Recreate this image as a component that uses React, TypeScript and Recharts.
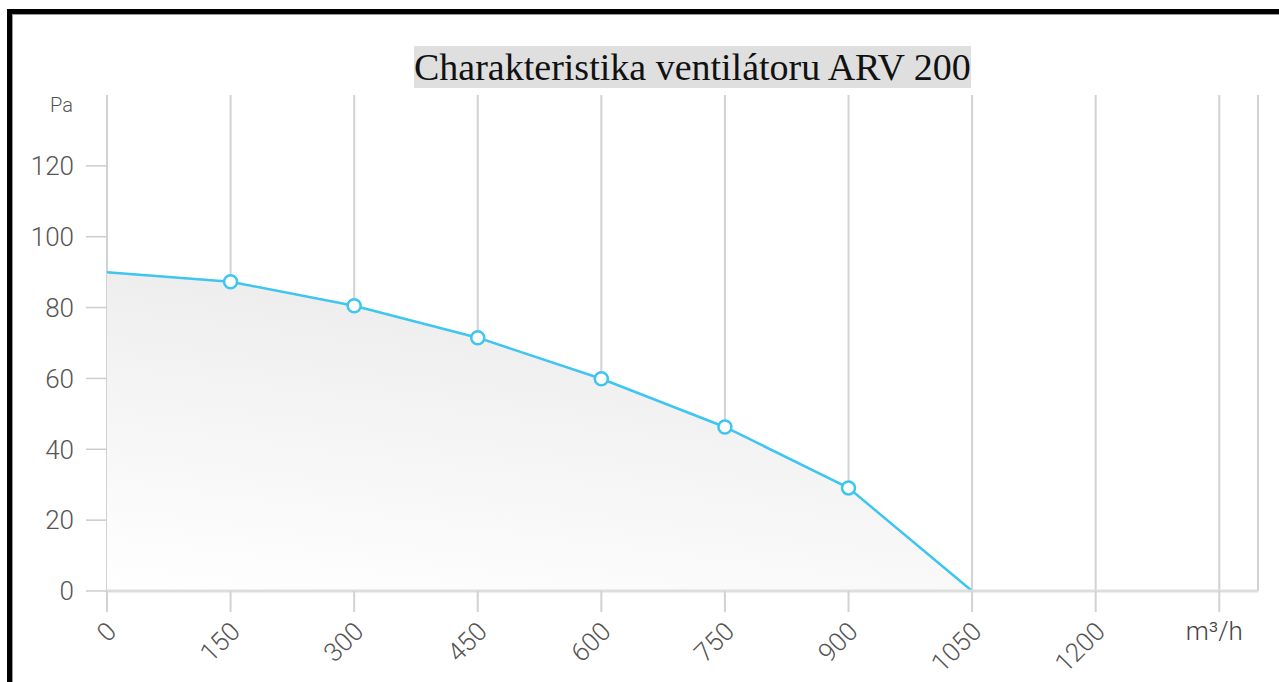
import React from 'react';
import { ComposedChart, Area, XAxis, YAxis, CartesianGrid, Label } from 'recharts';

// ---------------------------------------------------------------------------
// Data
// ---------------------------------------------------------------------------

const flowValues = [0, 150, 300, 450, 600, 750, 900, 1050];
const pressureValues = [90, 87.3, 80.5, 71.5, 59.9, 46.3, 29.1, 0];
const xTicks = [0, 150, 300, 450, 600, 750, 900, 1050, 1200, 1350];
const yTicks = [0, 20, 40, 60, 80, 100, 120];
const unitTick = 1350;

const data = flowValues.map((flow, i) => ({ flow, pressure: pressureValues[i] }));

const LINE_COLOR = '#3ec5f0';
const FONT = 'Roboto, sans-serif';

// ---------------------------------------------------------------------------
// Ticks and dots
// ---------------------------------------------------------------------------

function FlowTick({ x, y, payload }: any) {
  if (payload.value === unitTick) {
    return (
      <text x={x - 5} y={y + 26} textAnchor="middle" fontSize={26} fontWeight={300} fontFamily={FONT} fill="#444">
        m³/h
      </text>
    );
  }
  return (
    <text
      transform={`translate(${x + 11}, ${y + 19}) rotate(-45)`}
      textAnchor="end"
      fontSize={26}
      fontWeight={300}
      fontFamily={FONT}
      fill="#555"
    >
      {payload.value}
    </text>
  );
}

function PointDot({ cx, cy, index }: any) {
  // the first and last points are drawn without a marker
  if (index === 0 || index === flowValues.length - 1) return <g key={`d${index}`} />;
  return (
    <circle key={`d${index}`} cx={cx} cy={cy} r={6.5} fill="#fff" stroke={LINE_COLOR} strokeWidth={2.5} />
  );
}

function UnitLabel({ viewBox }: any) {
  return (
    <text x={viewBox.x + viewBox.width - 34} y={viewBox.y + 17} textAnchor="end" fontSize={20} fontWeight={300} fontFamily={FONT} fill="#555">
      Pa
    </text>
  );
}

// ---------------------------------------------------------------------------
// App
// ---------------------------------------------------------------------------

export default function App() {
  return (
    <div style={{ position: 'fixed', left: 0, top: 0, width: 1279, height: 682, background: '#fff', overflow: 'hidden' }}>
      <div style={{ position: 'absolute', left: 7, top: 9, width: 1400, height: 800, borderTop: '5px solid #000', borderLeft: '5px solid #000' }} />
      <div style={{ position: 'absolute', left: 12, top: 14, width: 1400, height: 800, borderTop: '1px solid #999', borderLeft: '1px solid #999' }} />
      <div
        style={{
          position: 'absolute',
          left: 414,
          top: 45,
          whiteSpace: 'nowrap',
          fontFamily: '"Liberation Serif", serif',
          fontSize: 38,
          color: '#111',
        }}
      >
        <span style={{ background: '#dfdfdf' }}>Charakteristika ventilátoru ARV 200</span>
      </div>
      <div style={{ position: 'absolute', left: 0, top: 0 }}>
        <ComposedChart width={1279} height={682} data={data} margin={{ top: 95, right: 21, bottom: 0, left: 0 }}>
          <defs>
            <linearGradient id="areaFill" x1="0.35" y1="0" x2="0" y2="1">
              <stop offset="0%" stopColor="#ececec" />
              <stop offset="100%" stopColor="#ffffff" />
            </linearGradient>
          </defs>
          <CartesianGrid horizontal={false} stroke="#d2d2d2" strokeWidth={2} />
          <XAxis
            type="number"
            dataKey="flow"
            domain={[0, 1397]}
            ticks={xTicks}
            interval={0}
            height={91}
            tickSize={21}
            tick={<FlowTick />}
            tickLine={{ stroke: '#d2d2d2', strokeWidth: 2 }}
            axisLine={{ stroke: '#dddddd', strokeWidth: 3 }}
          />
          <YAxis
            type="number"
            domain={[0, 140]}
            ticks={yTicks}
            interval={0}
            width={107}
            tickSize={21}
            tickMargin={12}
            axisLine={false}
            tickLine={{ stroke: '#cccccc', strokeWidth: 1.5 }}
            tick={{ fontSize: 26, fontWeight: 300, fontFamily: FONT, fill: '#555' }}
          >
            <Label content={<UnitLabel />} />
          </YAxis>
          <Area
            type="linear"
            dataKey="pressure"
            stroke={LINE_COLOR}
            strokeWidth={2.5}
            fill="url(#areaFill)"
            fillOpacity={1}
            dot={PointDot}
            activeDot={false}
            isAnimationActive={false}
          />
        </ComposedChart>
      </div>
    </div>
  );
}
